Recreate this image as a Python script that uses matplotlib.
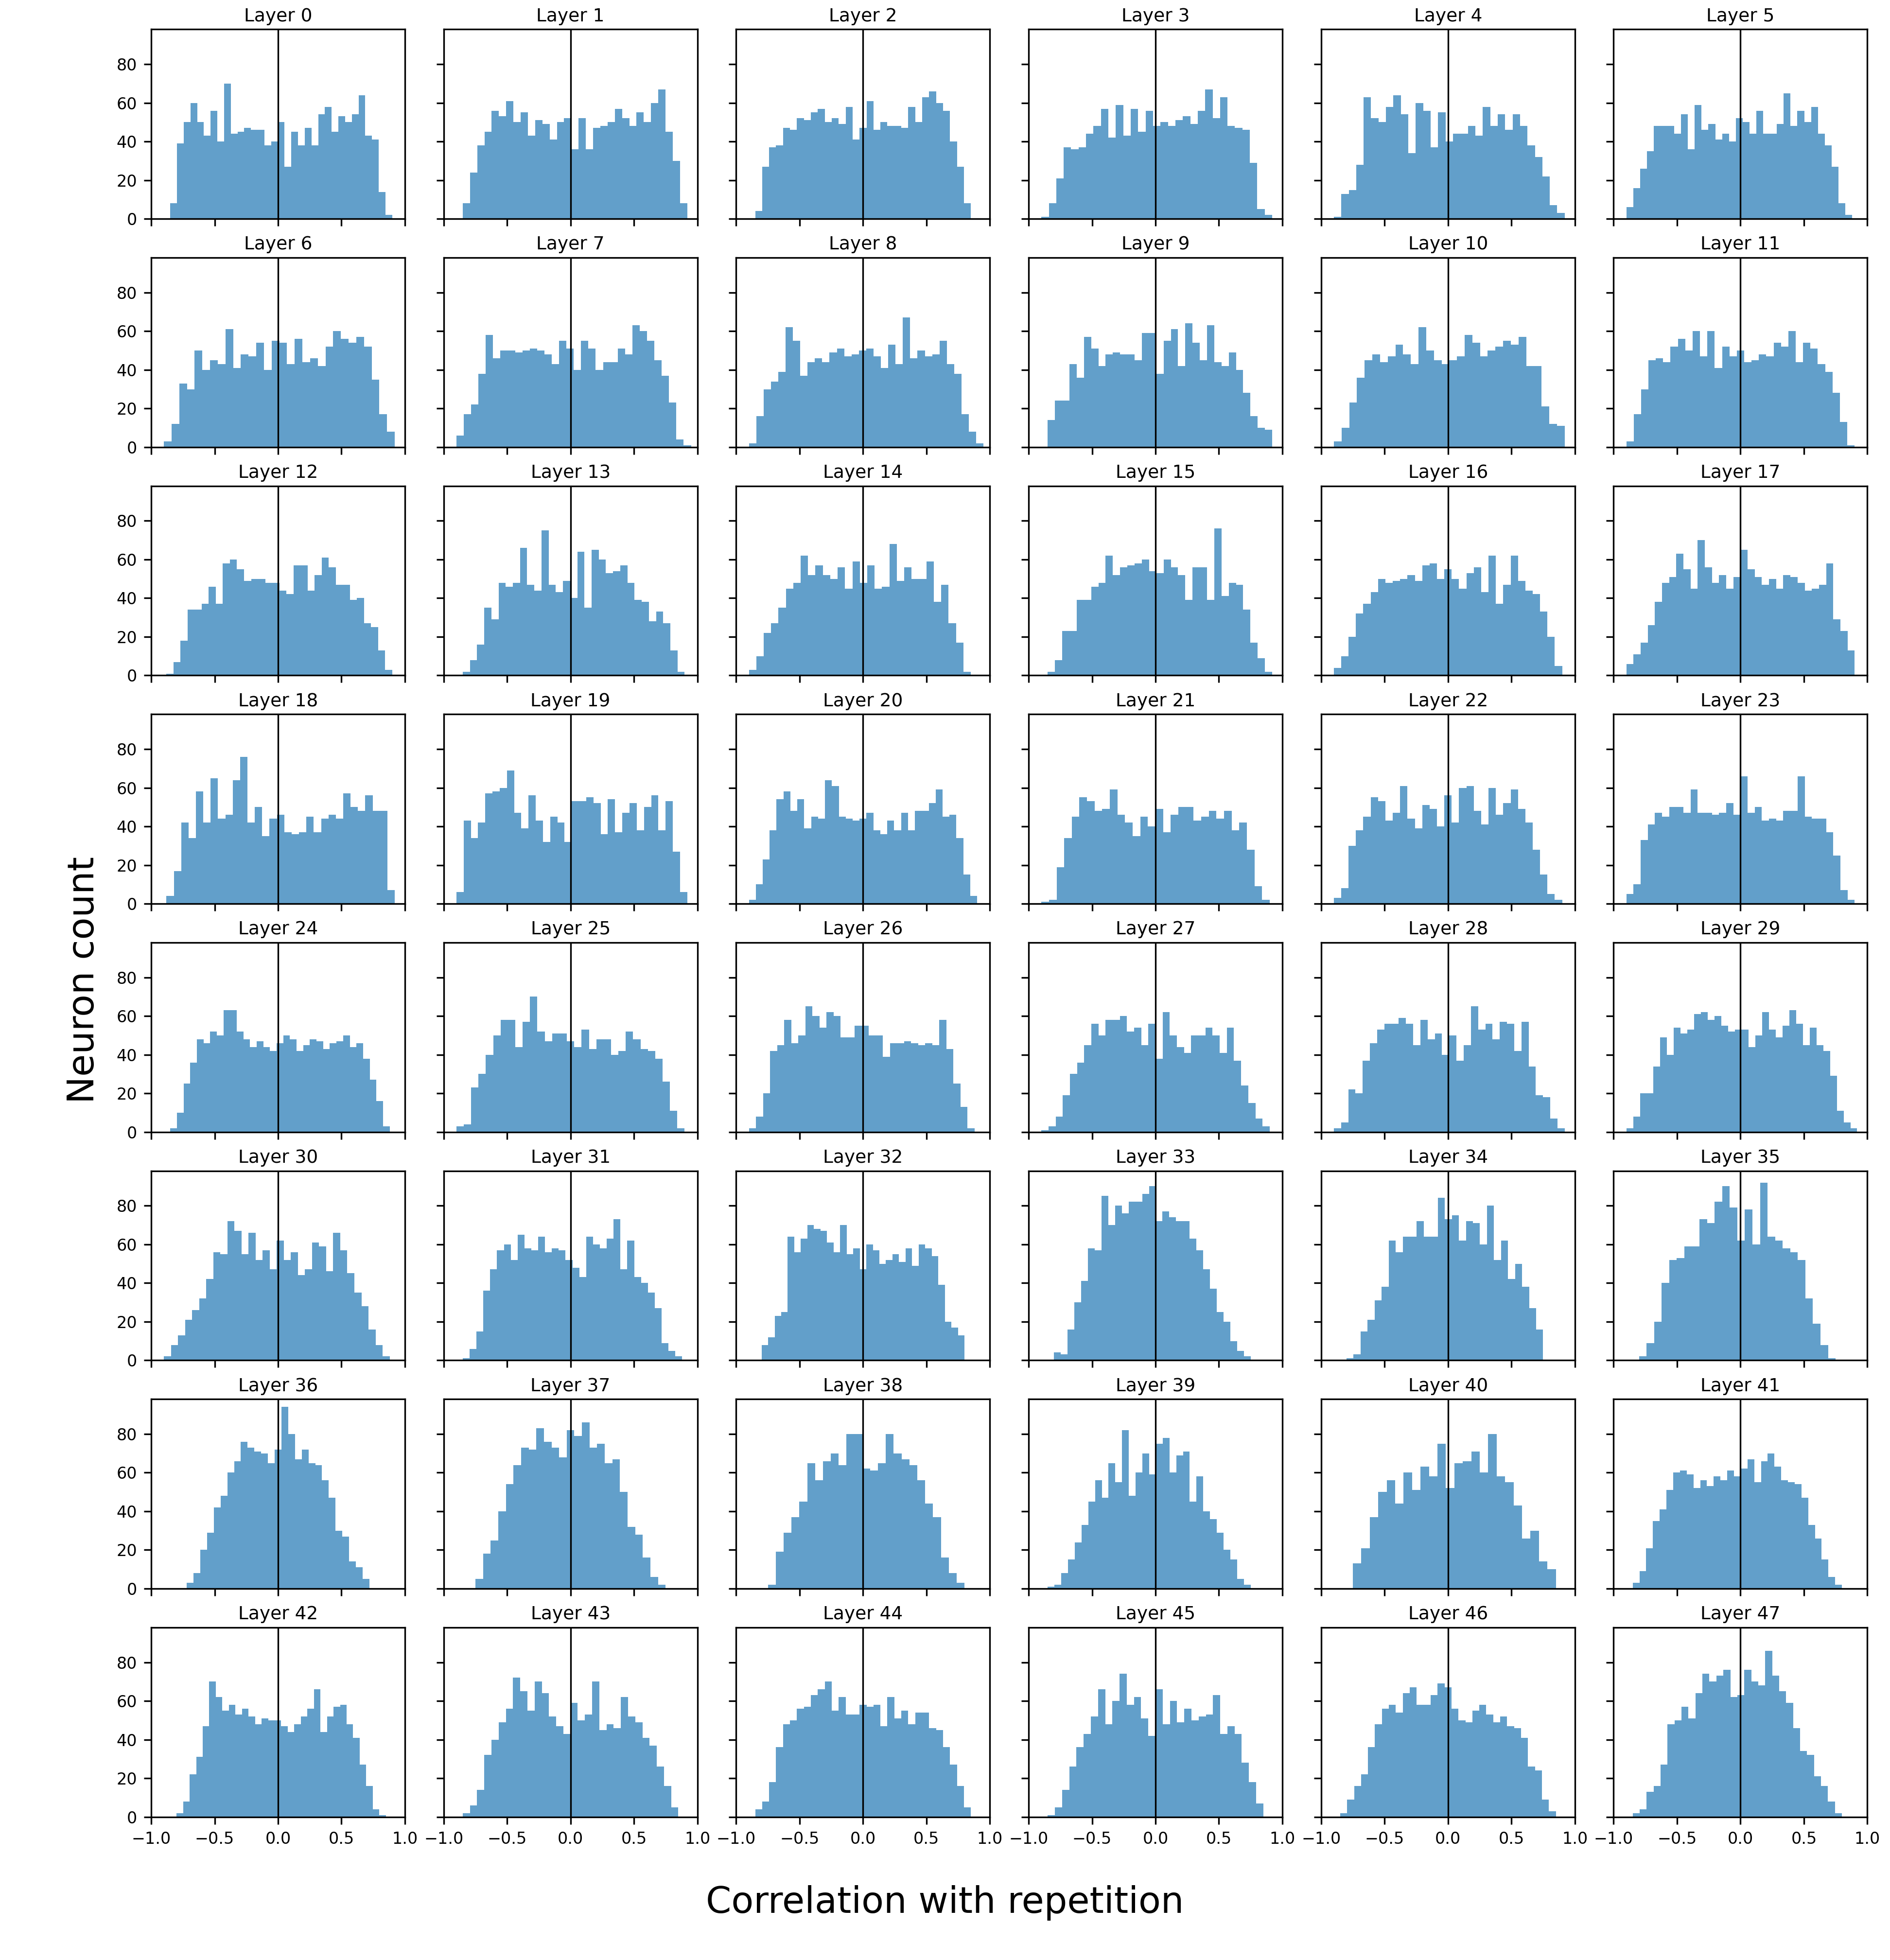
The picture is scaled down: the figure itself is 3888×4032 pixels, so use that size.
import numpy as np
import matplotlib
matplotlib.use("Agg")
import matplotlib.pyplot as plt

# bin counts per layer read left to right (leading zeros = empty bins)
counts = [
    [0,0,0,8,39,50,60,50,43,56,40,70,44,45,47,46,46,38,40,50, 27,45,38,47,38,54,58,45,53,50,54,64,43,41,14,2],
    [0,0,0,8,24,38,45,56,53,61,50,55,43,51,49,41,50,52,36,52, 36,47,48,50,57,52,48,55,50,60,67,45,30,8],
    [0,0,0,4,27,37,38,47,46,52,51,55,57,50,52,49,58,41,47,61, 46,50,48,48,47,58,50,63,66,60,56,40,27,8],
    [0,0,0,1,8,21,37,36,37,44,48,57,42,59,43,57,45,56,48,50, 48,51,53,49,56,67,52,63,48,47,46,29,5,2],
    [0,0,0,1,13,15,28,63,52,50,58,64,54,34,60,56,37,55,40,44, 44,48,43,58,48,54,46,54,48,38,32,22,7,3],
    [0,0,0,6,16,26,35,48,48,48,44,54,36,59,46,49,41,44,40,52, 50,44,56,44,44,49,65,48,56,50,58,44,38,27,8,2],
    [0,0,0,3,12,33,30,50,40,45,43,61,41,48,47,54,40,55,54,43, 56,44,46,42,52,60,56,54,57,52,35,17,8],
    [0,0,6,17,22,38,58,46,50,50,49,50,51,50,48,43,55,51,40,55, 51,40,44,44,51,48,63,60,55,45,37,23,4,1],
    [0,0,0,2,16,30,34,39,62,55,37,44,46,44,49,51,47,48,50,51, 47,41,53,43,67,46,50,47,48,55,43,38,17,8,2],
    [0,0,0,14,24,24,43,36,57,51,42,48,49,48,48,45,59,59,38,55, 61,42,64,54,45,63,44,42,49,40,28,16,10,9],
    [0,0,0,3,10,23,36,45,48,44,47,53,48,43,62,50,45,43,45,47, 58,54,47,50,52,55,53,57,42,42,21,12,11],
    [0,0,0,3,17,30,45,46,44,52,56,50,60,47,60,41,52,47,50,44, 45,48,47,54,52,60,44,54,51,43,39,28,13,1],
    [0,0,0,1,7,18,34,34,37,46,37,58,60,55,49,50,50,48,48,44, 42,57,57,44,52,61,56,47,47,39,40,27,25,13,3],
    [0,0,0,2,8,16,35,29,48,46,48,66,47,44,75,47,43,49,40,64, 35,65,60,53,54,57,48,39,38,28,33,27,13,2],
    [0,0,0,3,10,22,27,35,45,48,62,52,57,52,50,56,45,59,48,57, 45,46,68,49,56,50,50,59,38,47,27,17,2],
    [0,0,0,2,8,23,23,39,39,46,48,62,52,56,57,58,60,54,53,60, 56,52,39,56,56,39,76,41,48,47,34,17,9,2],
    [0,0,0,4,10,20,32,37,43,50,48,49,50,52,49,57,58,50,55,50, 45,53,56,43,62,37,47,62,49,44,42,33,20,5],
    [0,0,0,6,11,17,26,38,48,51,63,55,45,70,56,48,52,45,51,65, 55,51,47,50,45,52,51,48,44,45,47,58,29,23,13],
    [0,0,0,4,17,42,34,58,42,65,44,46,64,76,42,50,35,44,46,37, 36,37,45,37,44,46,44,57,50,48,56,48,48,7],
    [0,0,0,6,43,34,42,57,58,60,69,47,39,56,43,32,45,42,32,53, 53,55,52,36,54,37,47,52,38,50,56,38,53,27,6],
    [0,0,0,2,10,23,38,54,58,48,54,39,45,44,64,61,45,44,43,44, 47,38,36,43,38,47,38,48,48,52,59,45,46,34,15,4],
    [0,0,0,1,2,19,34,45,55,53,48,49,59,46,42,35,45,40,49,37, 46,50,50,43,45,48,44,48,38,42,28,9,2],
    [0,0,0,3,8,30,38,45,55,53,43,47,61,44,39,51,49,40,56,42, 60,61,48,41,60,46,52,59,49,42,28,15,5,2],
    [0,0,0,5,10,33,41,47,45,50,50,47,59,47,47,46,47,52,46,66, 47,50,43,44,43,48,48,66,45,44,44,37,25,7,2],
    [0,0,0,2,10,25,36,48,46,52,50,63,63,52,48,44,47,44,42,46, 50,48,42,45,48,47,43,46,47,50,44,46,38,27,16,3],
    [0,0,0,3,4,23,30,40,50,58,58,44,57,70,52,47,51,51,47,44, 53,43,48,48,40,42,52,48,43,42,38,26,11,2],
    [0,0,0,2,8,20,42,45,58,46,50,65,60,54,62,60,49,49,55,55, 50,50,39,46,46,47,46,45,46,45,58,43,25,13,2],
    [0,0,0,1,3,8,19,30,36,45,56,50,58,58,60,52,54,45,56,38, 62,50,44,41,50,50,54,50,41,54,37,24,15,7,3],
    [0,0,0,2,5,22,20,37,46,53,56,56,59,56,45,58,48,51,40,50, 37,45,65,53,56,48,57,56,42,57,34,19,18,7,2],
    [0,0,0,2,8,20,20,34,49,40,54,51,53,61,62,58,60,55,52,53, 53,44,50,62,53,49,55,63,56,45,54,45,42,29,11,5,2],
    [0,0,0,0,2,8,13,21,26,32,42,56,55,72,67,55,66,52,57,47, 62,52,56,44,47,61,59,46,66,57,45,35,28,16,8,2],
    [0,0,0,0,1,6,15,36,47,57,60,52,65,58,57,64,56,58,57,52, 48,43,64,60,58,63,73,47,62,43,40,35,27,9,5,2],
    [0,0,0,0,8,12,23,25,64,56,63,70,68,67,61,56,70,55,58,47, 60,57,50,52,55,51,58,49,60,58,54,39,20,17,13],
    [0,0,0,0,0,4,3,16,30,41,58,57,85,70,80,76,82,82,86,90, 72,77,74,72,72,63,57,47,37,25,20,10,5,2],
    [0,0,0,0,1,3,15,21,31,38,62,56,64,64,72,64,64,84,73,75, 62,72,71,60,80,52,62,42,50,38,27,16],
    [0,0,0,0,0,2,9,20,40,52,53,59,59,73,71,82,90,79,62,78, 60,92,64,62,58,56,52,32,19,8,1],
    [0,0,0,0,0,0,3,8,20,29,42,48,60,66,76,73,71,70,65,72, 94,80,67,72,65,64,56,47,30,27,14,11,5],
    [0,0,0,0,0,0,5,18,25,40,54,64,73,72,83,76,73,68,82,79, 86,73,75,65,67,50,32,28,16,6,2],
    [0,0,0,0,0,2,19,29,37,45,65,56,66,70,64,80,80,62,61,65, 80,70,67,64,56,44,37,16,8,3],
    [0,0,0,0,1,2,8,15,24,33,45,56,47,65,55,82,48,60,70,59, 75,78,60,69,71,45,58,40,36,29,20,15,5,2],
    [0,0,0,0,0,13,21,37,50,56,44,60,51,63,58,75,52,65,66,71, 60,80,58,55,43,26,30,14,10],
    [0,0,0,0,3,9,21,35,41,51,60,61,59,52,56,53,58,56,61,58, 62,67,55,66,70,63,56,55,54,47,33,26,15,6,2],
    [0,0,0,0,2,8,22,31,47,70,62,55,58,53,56,52,48,51,50,50, 47,44,48,52,56,66,44,52,57,58,48,41,27,16,4,1],
    [0,0,0,2,6,14,32,40,49,56,72,65,55,70,64,52,47,43,59,50, 53,70,45,48,46,62,52,49,41,37,26,16,5],
    [0,0,0,4,8,18,36,48,50,56,57,63,66,70,55,62,53,53,58,57, 58,47,62,51,55,48,54,54,46,45,36,27,16,5],
    [0,0,0,1,5,14,26,36,43,52,66,48,60,74,58,62,51,42,66,48, 60,49,56,50,52,53,63,43,47,43,28,18,7],
    [0,0,0,2,9,16,22,36,48,56,58,54,64,67,58,58,63,69,67,56, 50,49,55,58,53,49,52,47,46,41,26,24,9,3],
    [0,0,0,0,2,4,13,16,27,48,50,57,51,64,74,70,73,76,62,63, 76,70,68,86,73,65,59,46,34,32,21,16,8,2],
]
# data range (min, max correlation) of each layer
range_lo = [-0.85, -0.85, -0.85, -0.9, -0.9, -0.9,
            -0.9, -0.9, -0.9, -0.85, -0.9, -0.9,
            -0.88, -0.85, -0.9, -0.85, -0.9, -0.9,
            -0.88, -0.9, -0.9, -0.9, -0.9, -0.9,
            -0.85, -0.9, -0.9, -0.9, -0.9, -0.9,
            -0.9, -0.85, -0.8, -0.8, -0.8, -0.8,
            -0.72, -0.75, -0.75, -0.85, -0.75, -0.85,
            -0.8, -0.85, -0.85, -0.85, -0.85, -0.85]
range_hi = [0.9, 0.92, 0.85, 0.92, 0.92, 0.88,
            0.92, 0.95, 0.95, 0.92, 0.92, 0.9,
            0.9, 0.9, 0.85, 0.92, 0.9, 0.9,
            0.92, 0.92, 0.9, 0.9, 0.9, 0.9,
            0.88, 0.9, 0.88, 0.9, 0.92, 0.92,
            0.88, 0.88, 0.8, 0.75, 0.75, 0.75,
            0.72, 0.75, 0.8, 0.75, 0.85, 0.8,
            0.85, 0.85, 0.85, 0.85, 0.85, 0.8]
layer_titles = [f"Layer {i}" for i in range(48)]

fig, axes = plt.subplots(8, 6, figsize=(12.96, 13.44), sharex=True, sharey=True)
fig.subplots_adjust(left=0.08, right=0.988, top=0.985, bottom=0.073, wspace=0.153, hspace=0.205)

for i, ax in enumerate(axes.flat):
    vals = np.trim_zeros(np.array(counts[i], dtype=float), "f")
    edges = np.linspace(range_lo[i], range_hi[i], len(vals) + 1)
    centers = (edges[:-1] + edges[1:]) / 2
    ax.hist(centers, bins=edges, weights=vals, color="#1f77b4", alpha=0.7)
    ax.axvline(0, color="black", linewidth=0.8)
    ax.set_title(layer_titles[i], fontsize=9, pad=4)
    ax.set_xlim(-1, 1)
    ax.set_ylim(0, 98)
    ax.set_yticks([0, 20, 40, 60, 80])
    ax.set_xticks([-1, -0.5, 0, 0.5, 1])
    ax.tick_params(labelsize=8)

fig.supxlabel("Correlation with repetition", fontsize=18, y=0.02)
fig.supylabel("Neuron count", fontsize=18, x=0.035)

fig.savefig("out.png", dpi=300)
